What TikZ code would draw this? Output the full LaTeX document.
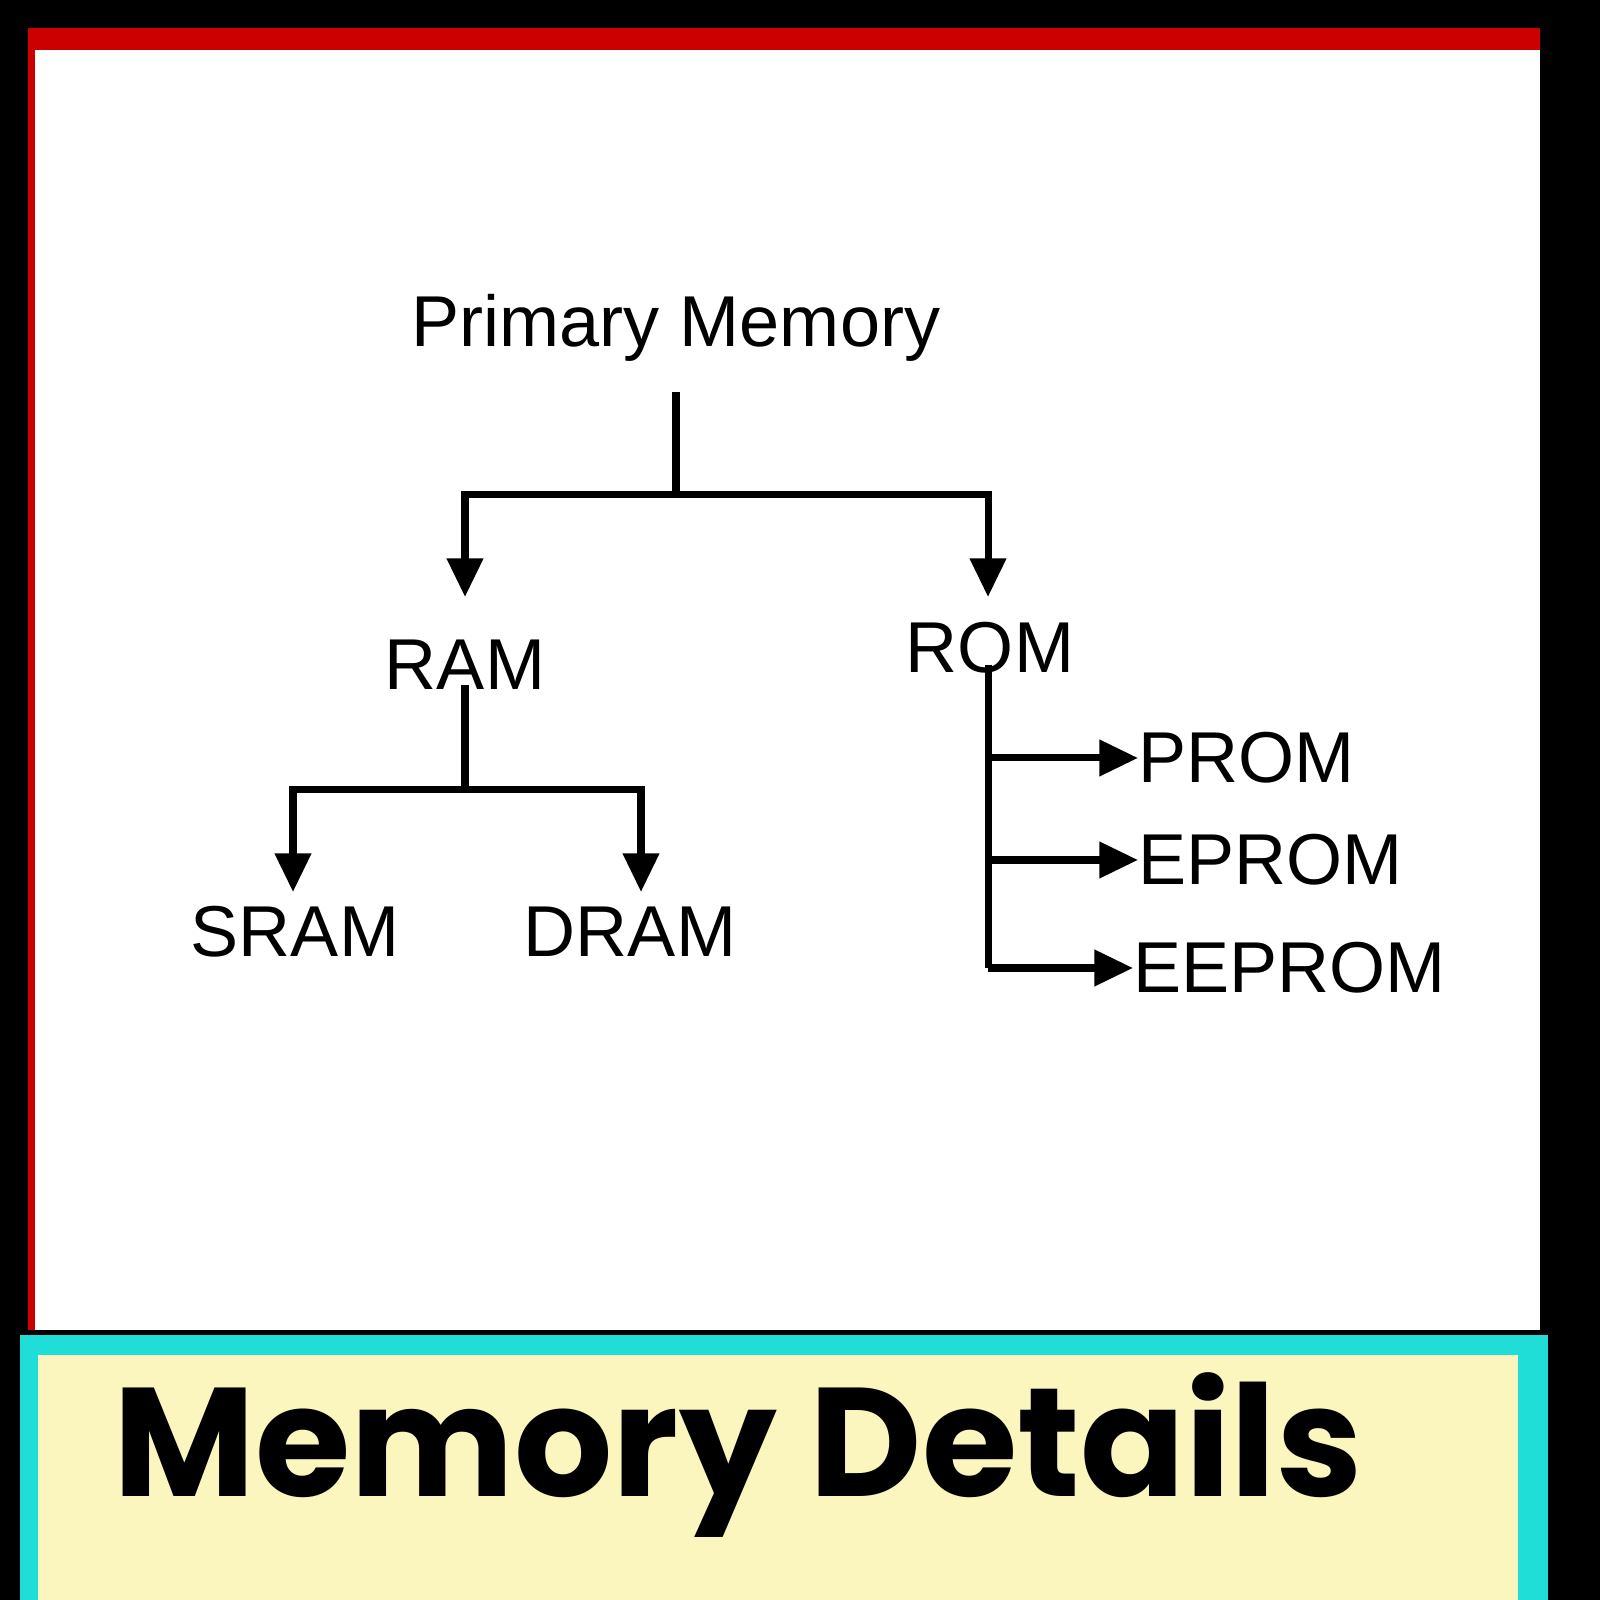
\documentclass[tikz,border=0pt]{standalone}
\usepackage{fontspec}
\setmainfont{Liberation Sans}
\newfontfamily\titlefont{Poppins}
\usetikzlibrary{arrows.meta,positioning}
\definecolor{bandcyan}{RGB}{30,222,215}
\definecolor{bandyellow}{RGB}{250,246,190}

\begin{document}
\begin{tikzpicture}[
    lbl/.style={font=\fontsize{20.5}{24}\selectfont, inner sep=0pt},
    arrow/.style={-{Triangle[width=10pt,length=11pt]}, line width=2pt},
    link/.style={line width=2pt}
]
% frame
\fill[black] (0,0) rectangle (16,16);
\fill[red!80!black] (0.28,2.7) rectangle (15.4,15.72);
\fill[white] (0.35,2.7) rectangle (15.4,15.5);
\fill[bandcyan] (0.2,0) rectangle (15.48,2.65);
\fill[bandyellow] (0.38,0) rectangle (15.18,2.45);

% nodes
\node[lbl] (pm) at (6.76,12.72) {Primary Memory};
\node[lbl] (ram) at (4.65,9.35) {RAM};
\node[lbl] (rom) at (9.9,9.52) {ROM};
\node[lbl] (sram) at (2.95,6.68) {SRAM};
\node[lbl] (dram) at (6.3,6.68) {DRAM};
\node[lbl, anchor=west] (prom) at (11.38,8.42) {PROM};
\node[lbl, anchor=west] (eprom) at (11.38,7.4) {EPROM};
\node[lbl, anchor=west] (eeprom) at (11.33,6.32) {EEPROM};

% connectors
\coordinate (pmtop) at (6.76,12.08);
\coordinate (pmj) at (6.76,11.05);
\coordinate (ramtip) at (4.65,10.03);
\coordinate (romtip) at (9.88,10.03);
\draw[link] (pmtop) -- (pmj);
\draw[arrow] (pmj) -| (ramtip);
\draw[arrow] (pmj) -| (romtip);

\coordinate (ramtop) at (4.65,9.15);
\coordinate (ramj) at (4.65,8.1);
\coordinate (sramtip) at (2.93,7.08);
\coordinate (dramtip) at (6.41,7.08);
\draw[link] (ramtop) -- (ramj);
\draw[arrow] (ramj) -| (sramtip);
\draw[arrow] (ramj) -| (dramtip);

\coordinate (rombot) at (9.88,9.35);
\draw[link] (rombot) -- (9.88,6.32);
\foreach \n in {prom,eprom} {
  \draw[arrow] (9.88,0|-\n.center) -- (\n.west);
}
\draw[arrow] (rombot|-eeprom.center) -- (eeprom.west);

\node[font=\titlefont\bfseries\fontsize{44}{48}\selectfont, inner sep=0pt] (title) at (7.38,1.45) {Memory Details};
\end{tikzpicture}
\end{document}
